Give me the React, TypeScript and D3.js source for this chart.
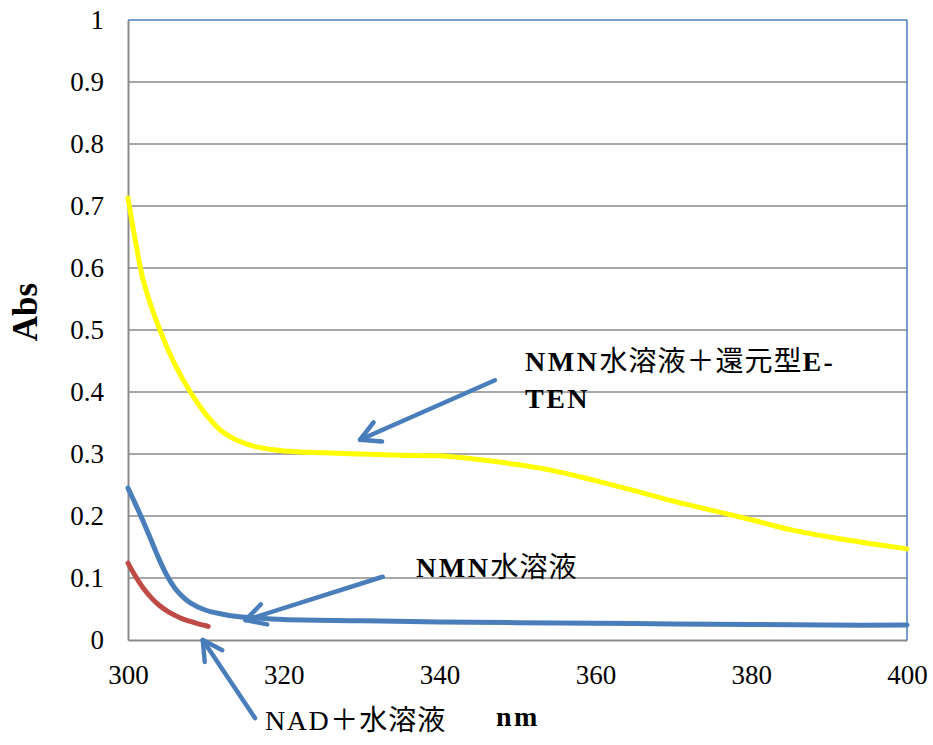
import React, { useEffect, useRef } from 'react';
import * as d3 from 'd3';

// wavelengths (nm) and absorbances
const yellowNm = [300, 301, 302, 304, 306, 308, 310, 312, 314, 316, 318, 320, 325, 330, 335, 340, 345, 350, 355, 360, 365, 370, 375, 380, 385, 390, 395, 400];
const yellowAbs = [0.713, 0.64, 0.578, 0.503, 0.445, 0.4, 0.364, 0.337, 0.322, 0.313, 0.308, 0.305, 0.302, 0.3, 0.298, 0.297, 0.291, 0.283, 0.272, 0.257, 0.241, 0.224, 0.209, 0.194, 0.178, 0.166, 0.156, 0.147];

const blueNm = [300, 301, 302, 303, 304, 305, 306, 307, 308, 310, 312, 314, 316, 320, 330, 340, 350, 360, 370, 380, 390, 400];
const blueAbs = [0.245, 0.218, 0.19, 0.16, 0.13, 0.104, 0.084, 0.07, 0.06, 0.048, 0.042, 0.038, 0.036, 0.033, 0.031, 0.029, 0.028, 0.027, 0.026, 0.025, 0.024, 0.024];

const redNm = [300, 301, 302, 303, 304, 305, 306, 307, 308, 309, 310, 310.3];
const redAbs = [0.124, 0.102, 0.083, 0.068, 0.056, 0.047, 0.04, 0.034, 0.03, 0.026, 0.023, 0.022];

const xTicks = [300, 320, 340, 360, 380, 400];
const yTicks = [0, 0.1, 0.2, 0.3, 0.4, 0.5, 0.6, 0.7, 0.8, 0.9, 1];

// annotation arrows in data units: [tailNm, tailAbs, tipNm, tipAbs]
const arrows = [
  [347.1, 0.419, 329.8, 0.323],
  [332.7, 0.102, 315.1, 0.032],
  [316.3, -0.126, 309.6, 0.0],
];

const W = 933, H = 745;
const m = { left: 128, right: 907, top: 20, bottom: 640 };
const serif = '"Liberation Serif", serif';
const cjk = '"Noto Sans CJK JP", sans-serif';
const blue = '#4a7ebb';
const grid = '#8a8a8a';

// splits a label into latin / CJK runs so each gets its own font
const runs = (s: string) => {
  const out: { t: string; cjk: boolean }[] = [];
  for (const ch of s) {
    const isC = /[\u3000-\u9fff\uff00-\uffef]/.test(ch);
    const last = out[out.length - 1];
    if (last && last.cjk === isC) last.t += ch;
    else out.push({ t: ch, cjk: isC });
  }
  return out;
};

const App = () => {
  const ref = useRef<SVGSVGElement>(null);

  useEffect(() => {
    document.body.style.margin = '0';
    const svg = d3.select(ref.current);
    svg.selectAll('*').remove();

    const x = d3.scaleLinear().domain([300, 400]).range([m.left, m.right]);
    const y = d3.scaleLinear().domain([0, 1]).range([m.bottom, m.top]);

    // gridlines
    svg.append('g')
      .selectAll('line')
      .data(yTicks.filter(d => d > 0 && d < 1))
      .join('line')
      .attr('x1', m.left).attr('x2', m.right)
      .attr('y1', d => y(d)).attr('y2', d => y(d))
      .attr('stroke', grid).attr('stroke-width', 1.5);

    // frame
    svg.append('line').attr('x1', m.left).attr('x2', m.right).attr('y1', m.top).attr('y2', m.top)
      .attr('stroke', blue).attr('stroke-width', 1.5);
    svg.append('line').attr('x1', m.right).attr('x2', m.right).attr('y1', m.top).attr('y2', m.bottom)
      .attr('stroke', blue).attr('stroke-width', 1.5);

    // y axis
    const yAxis = svg.append('g')
      .attr('transform', `translate(${m.left},0)`)
      .call(d3.axisLeft(y).tickValues(yTicks).tickSize(0).tickPadding(24).tickFormat(d => String(d)));
    yAxis.select('.domain').attr('stroke', grid).attr('stroke-width', 2);
    yAxis.selectAll('text')
      .style('font-family', serif).style('font-size', '27px').attr('fill', '#000');

    // x axis
    const xAxis = svg.append('g')
      .attr('transform', `translate(0,${m.bottom})`)
      .call(d3.axisBottom(x).tickValues(xTicks).tickSize(0).tickPadding(25).tickFormat(d => String(d)));
    xAxis.select('.domain').attr('stroke', grid).attr('stroke-width', 2);
    xAxis.selectAll('text')
      .style('font-family', serif).style('font-size', '27px').attr('fill', '#000');

    const line = d3.line<[number, number]>()
      .x(d => x(d[0])).y(d => y(d[1]))
      .curve(d3.curveCatmullRom.alpha(0.5));

    const series = [
      { nm: yellowNm, abs: yellowAbs, color: '#ffff00' },
      { nm: blueNm, abs: blueAbs, color: blue },
      { nm: redNm, abs: redAbs, color: '#be4b48' },
    ];
    series.forEach(s => {
      svg.append('path')
        .datum(s.nm.map((n, i) => [n, s.abs[i]] as [number, number]))
        .attr('d', line)
        .attr('fill', 'none')
        .attr('stroke', s.color)
        .attr('stroke-width', 5)
        .attr('stroke-linecap', 'round');
    });

    // arrows
    arrows.forEach(([tn, ta, hn, ha]) => {
      const x1 = x(tn), y1 = y(ta), x2 = x(hn), y2 = y(ha);
      const ang = Math.atan2(y1 - y2, x1 - x2);
      const g = svg.append('g').attr('stroke', blue).attr('stroke-width', 4.5)
        .attr('stroke-linecap', 'round').attr('fill', 'none');
      g.append('line').attr('x1', x1).attr('y1', y1).attr('x2', x2).attr('y2', y2);
      [-0.5, 0.5].forEach(da => {
        g.append('line')
          .attr('x1', x2).attr('y1', y2)
          .attr('x2', x2 + 22 * Math.cos(ang + da))
          .attr('y2', y2 + 22 * Math.sin(ang + da));
      });
    });

    // labels
    const label = (s: string, lx: number, ly: number, bold: boolean) => {
      const t = svg.append('text').attr('x', lx).attr('y', ly).attr('fill', '#000');
      runs(s).forEach(r => {
        t.append('tspan')
          .style('font-family', r.cjk ? cjk : serif)
          .style('font-size', '28px')
          .attr('letter-spacing', r.cjk ? 1 : (bold ? 2.5 : 1.5))
          .style('font-weight', r.cjk ? 'normal' : (bold ? 'bold' : 'normal'))
          .text(r.t);
      });
    };
    label('NMN水溶液＋還元型E-', 525, 371, true);
    label('TEN', 525, 408, true);
    label('NMN水溶液', 416, 577, true);
    label('NAD＋水溶液', 265, 730, false);
    label('nm', 496, 726, true);

    svg.append('text')
      .attr('transform', 'translate(37,312) rotate(-90)')
      .attr('text-anchor', 'middle')
      .style('font-family', serif)
      .style('font-weight', 'bold')
      .style('font-size', '35px')
      .text('Abs');
  }, []);

  return (
    <div>
      <svg ref={ref} width={W} height={H} style={{ display: 'block', background: '#fff' }} />
    </div>
  );
};

export default App;
